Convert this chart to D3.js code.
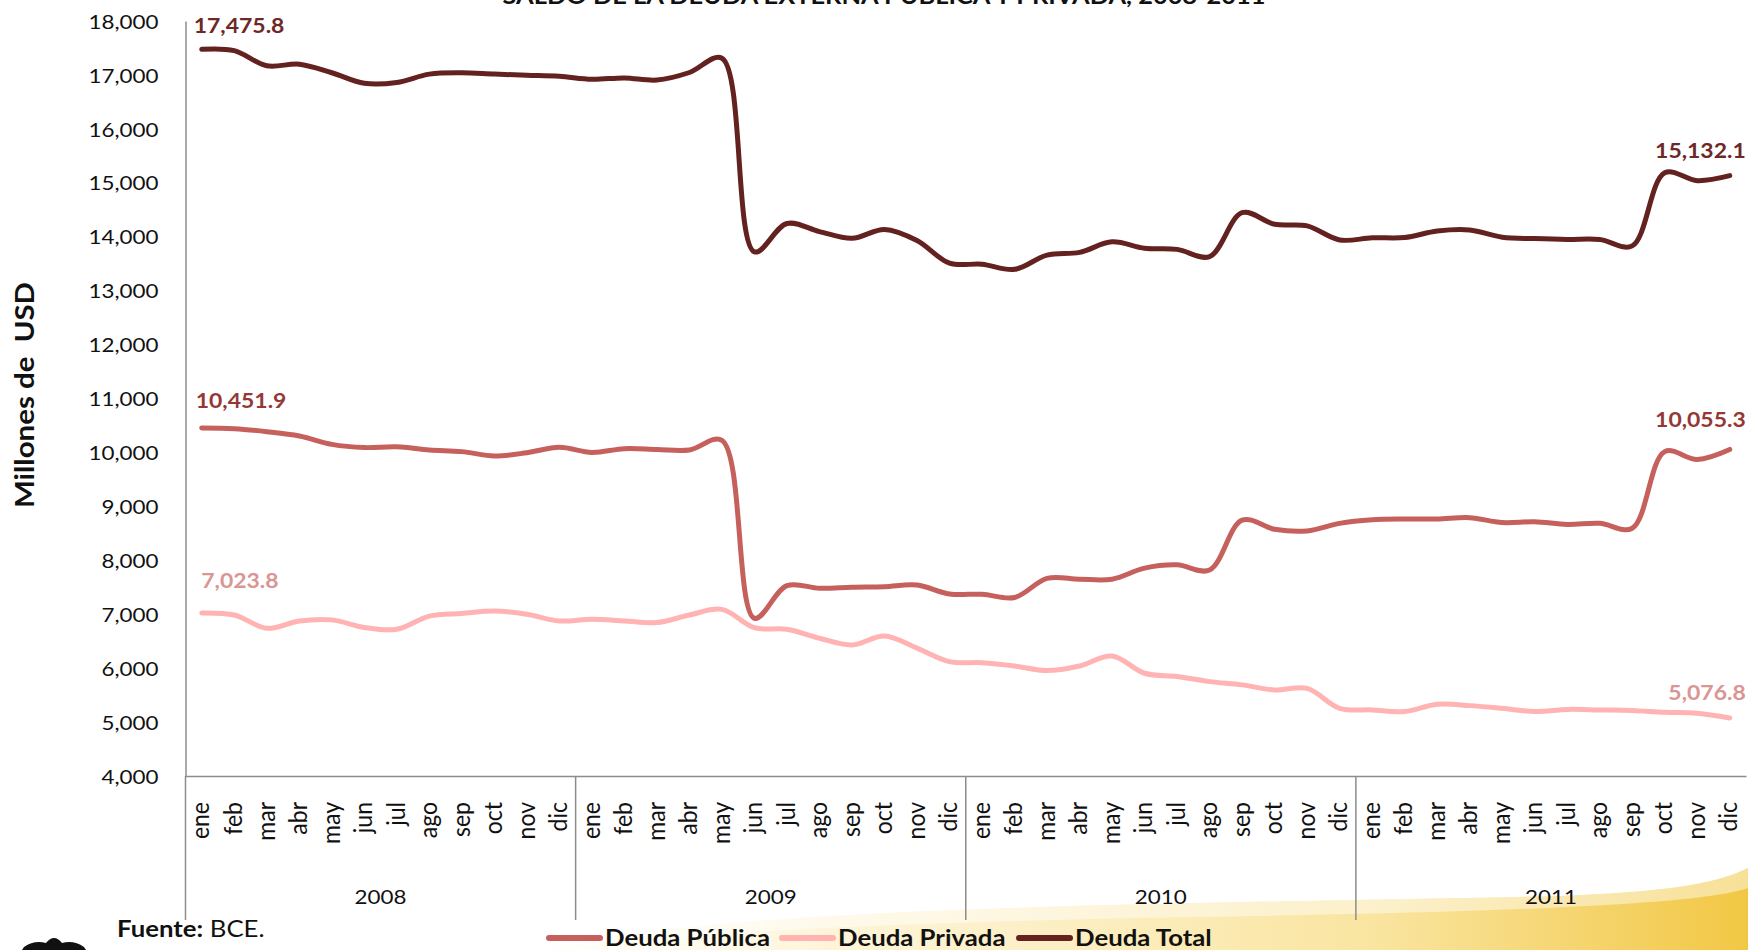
<!DOCTYPE html>
<html><head><meta charset="utf-8">
<script src="https://cdn.jsdelivr.net/npm/d3@7"></script>
<style>
html,body{margin:0;padding:0;background:#fff;}
svg{display:block;font-family:Lato,"Open Sans",sans-serif;}
</style></head><body>
<svg id="chart" width="1748" height="950"></svg>
<script>
// ---------- data ----------
const months = ["ene","feb","mar","abr","may","jun","jul","ago","sep","oct","nov","dic"];
const years = ["2008","2009","2010","2011"];
const deudaPublica = [10451.9,10440,10385,10305,10150,10090,10105,10045,10015,9935,9995,10095,
  10000,10070,10055,10045,10225,6925,7530,7480,7500,7510,7540,7375,
  7370,7310,7665,7650,7650,7855,7915,7820,8745,8575,8545,8685,
  8750,8765,8765,8790,8700,8715,8665,8685,8595,10015,9870,10055.3];
const deudaPrivada = [7023.8,6985,6740,6875,6895,6755,6720,6965,7015,7060,7000,6875,
  6905,6875,6845,6985,7090,6750,6720,6555,6430,6595,6370,6120,
  6100,6040,5955,6040,6225,5905,5845,5750,5690,5595,5625,5255,
  5225,5195,5330,5305,5255,5195,5235,5225,5215,5180,5165,5076.8];
const deudaTotal = [17475.8,17450,17170,17200,17040,16845,16860,17015,17040,17015,16995,16975,
  16920,16945,16905,17045,17310,13720,14245,14095,13970,14135,13930,13510,
  13490,13395,13660,13710,13905,13785,13765,13630,14445,14230,14200,13940,
  13980,13985,14105,14125,13990,13965,13950,13950,13830,15185,15040,15132.1];
const yTicks = [4000,5000,6000,7000,8000,9000,10000,11000,12000,13000,14000,15000,16000,17000,18000];
const seriesNames = ["Deuda Pública","Deuda Privada","Deuda Total"];
const titleText = "SALDO DE LA DEUDA EXTERNA PÚBLICA Y PRIVADA, 2008-2011";
const yTitle = "Millones de  USD";
const sourceBold = "Fuente:";
const sourceText = " BCE.";

// ---------- setup ----------
const categories = [];
years.forEach(y => months.forEach(m => categories.push(y + "-" + m)));
const series = [
  {name: seriesNames[0], values: deudaPublica, color: "#C6605C", label: "#953735", w: 5},
  {name: seriesNames[1], values: deudaPrivada, color: "#FFB3B3", label: "#D99694", w: 5},
  {name: seriesNames[2], values: deudaTotal, color: "#632220", label: "#6E2828", w: 5}
];
const SX = 1.12;
const svg = d3.select("#chart");
const L = 185.5, R = 1746, T = 21, B = 776;

const x = d3.scaleBand().domain(categories).range([L, R]).paddingInner(0).paddingOuter(0);
const cx = c => x(c) + x.bandwidth() / 2;
const y = d3.scaleLinear().domain([4000, 18000]).range([B, T]);

// ---------- background decoration ----------
const defs = svg.append("defs");
const g1 = defs.append("linearGradient").attr("id","gold").attr("x1","0").attr("x2","1").attr("y1","0").attr("y2","0");
g1.append("stop").attr("offset","0").attr("stop-color","#FFF6D8").attr("stop-opacity",0);
g1.append("stop").attr("offset","0.25").attr("stop-color","#FDF1CC").attr("stop-opacity",0.75);
g1.append("stop").attr("offset","0.7").attr("stop-color","#F9E39A").attr("stop-opacity",0.95);
g1.append("stop").attr("offset","1").attr("stop-color","#F2C744").attr("stop-opacity",1);

svg.append("path")
  .attr("d","M520 950 C 760 902, 1250 904, 1560 896 C 1660 892, 1715 885, 1748 868 L 1748 950 Z")
  .attr("fill","url(#gold)");
svg.append("path")
  .attr("d","M520 950 C 760 902, 1250 904, 1560 896 C 1660 892, 1715 885, 1748 868 L 1748 888 C 1700 905, 1500 912, 1200 917 C 900 922, 700 932, 520 950 Z")
  .attr("fill","#fff").attr("opacity",0.45);

// logo shape bottom-left
svg.append("path")
  .attr("d","M22 950 L24 947 Q34 940 46 943 Q50 938 54 938 Q58 938 62 943 Q74 940 84 947 L86 950 Z")
  .attr("fill","#111");

// ---------- title (mostly cut off, as in the reference) ----------
svg.append("text").attr("x", 884).attr("y", 3.5).attr("text-anchor","middle")
  .attr("font-size", 22).attr("font-weight", 700).attr("fill","#111")
  .attr("textLength", 763).attr("lengthAdjust","spacingAndGlyphs").text(titleText);

// ---------- axes ----------
const axisColor = "#8C8C8C";
const yAxis = svg.append("g").attr("transform", `translate(${L},0)`)
  .call(d3.axisLeft(y).tickValues(yTicks).tickSize(0).tickPadding(0).tickFormat(d3.format(",")));
yAxis.select(".domain").attr("stroke", axisColor).attr("stroke-width", 1.5);
yAxis.selectAll("text").attr("font-family","Lato").attr("font-size", 20).attr("fill","#111")
  .attr("x", -27 / SX).attr("dy","0.36em").attr("transform", `scale(${SX},1)`);

const xAxis = svg.append("g").attr("transform", `translate(0,${B})`)
  .call(d3.axisBottom(x).tickSize(0).tickFormat(c => c.split("-")[1]));
xAxis.select(".domain").attr("stroke", axisColor).attr("stroke-width", 1.5);
xAxis.selectAll("text").attr("font-family","Lato").attr("font-size", 23).attr("fill","#111")
  .attr("text-anchor","end").attr("x", 0).attr("y", 0).attr("dy","0.3em")
  .attr("transform", `translate(0,26) scale(${SX},1) rotate(-90)`);

// vertical extension and year separators
const sepX = [0,1,2,3].map(k => x(years[k] + "-ene"));
svg.append("g").selectAll("line").data(sepX).join("line")
  .attr("x1", d => d).attr("x2", d => d).attr("y1", B).attr("y2", 920)
  .attr("stroke", axisColor).attr("stroke-width", 1.5);

// year labels
svg.append("g").selectAll("g").data(years).join("g")
  .attr("transform", yv => {
    const xs = x(yv + "-ene"), xe = x(yv + "-dic") + x.bandwidth();
    return `translate(${(xs + xe) / 2},904) scale(${SX},1)`;
  })
  .append("text").attr("text-anchor","middle").attr("font-size", 20).attr("fill","#111").text(d => d);

// y title
svg.append("text").attr("transform","translate(33.5,395) rotate(-90)")
  .attr("text-anchor","middle").attr("font-size", 26.5).attr("font-weight", 700).attr("fill","#111")
  .style("white-space","pre").attr("textLength", 226).attr("lengthAdjust","spacingAndGlyphs")
  .text(yTitle);

// ---------- lines ----------
const line = d3.line().x((d, i) => cx(categories[i])).y(d => y(d)).curve(d3.curveCatmullRom.alpha(0.5));
svg.append("g").selectAll("path").data(series).join("path")
  .attr("d", s => line(s.values)).attr("fill","none")
  .attr("stroke", s => s.color).attr("stroke-width", s => s.w)
  .attr("stroke-linecap","round").attr("stroke-linejoin","round");

// ---------- data labels ----------
const fmt = d3.format(",.1f");
const labelSpecs = [
  {s: 0, i: 0, dx: -6, dy: -20, anchor: "start"},
  {s: 1, i: 0, dx: -0.5, dy: -24.5, anchor: "start"},
  {s: 2, i: 0, dx: -8, dy: -16, anchor: "start"},
  {s: 0, i: 47, dx: 16, dy: -22, anchor: "end"},
  {s: 1, i: 47, dx: 16, dy: -17.5, anchor: "end"},
  {s: 2, i: 47, dx: 16, dy: -18, anchor: "end"}
];
svg.append("g").selectAll("g").data(labelSpecs).join("g")
  .attr("transform", d => `translate(${cx(categories[d.i]) + d.dx},${y(series[d.s].values[d.i]) + d.dy}) scale(${SX},1)`)
  .append("text").attr("text-anchor", d => d.anchor).attr("font-size", 20.5).attr("font-weight", 700)
  .attr("fill", d => series[d.s].label).text(d => fmt(series[d.s].values[d.i]));

// ---------- legend ----------
const legendX = [547, 780, 1017];
const leg = svg.append("g").selectAll("g").data(series).join("g")
  .attr("transform", (d, i) => `translate(${legendX[i]},938)`);
leg.append("line").attr("x1", 2).attr("x2", 53).attr("y1", 0).attr("y2", 0)
  .attr("stroke", d => d.color).attr("stroke-width", 6).attr("stroke-linecap","round");
leg.append("text").attr("transform", `translate(58,8) scale(${SX},1)`)
  .attr("font-size", 23).attr("font-weight", 700).attr("fill","#111").text(d => d.name);

// ---------- source ----------
const src = svg.append("text").attr("transform", `translate(117,937) scale(${SX},1)`)
  .attr("font-size", 23).attr("fill","#111").style("white-space","pre");
src.append("tspan").attr("font-weight", 700).text(sourceBold);
src.append("tspan").text(sourceText);
</script>
</body></html>
